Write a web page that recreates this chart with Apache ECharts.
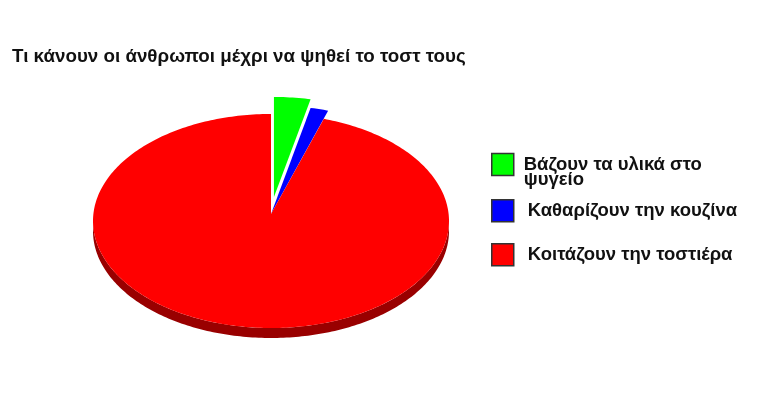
<!DOCTYPE html>
<html>
<head>
<meta charset="utf-8">
<script src="https://cdn.jsdelivr.net/npm/echarts@6/dist/echarts.min.js"></script>
<style>
  html, body { margin: 0; padding: 0; background: #fff; }
  #PieChart { width: 768px; height: 403px; }
</style>
</head>
<body>
<div id="PieChart"></div>
<script>
const chartTitle = "Τι κάνουν οι άνθρωποι μέχρι να ψηθεί το τοστ τους";
const sliceNames = [
  "Βάζουν τα υλικά στο\nψυγείο",
  "Καθαρίζουν την κουζίνα",
  "Κοιτάζουν την τοστιέρα",
];
const sliceValues = [3.3, 1.5, 95.2];
const sliceColors = ["#00ff00", "#0000ff", "#ff0000"];
const sideColors = ["#009900", "#000099", "#990000"];

// pie layout (tilted, so the top face is an ellipse)
const CX = 271;
const CY = 221;
const RX = 178;
const RY = 107;
const DEPTH = 10;
const APEX_DY = -7;
const explode = [0.16, 0, 0];
const reach = [1, 1.08, 1];
const FONT = "'Liberation Sans', Arial, sans-serif";

let chart;

function ellipsePoint(deg, k, ox, oy) {
  const r = (deg * Math.PI) / 180;
  return [CX + ox + RX * k * Math.sin(r), CY + oy - RY * k * Math.cos(r)];
}

function renderSlice(params, api) {
  const i = params.seriesIndex;
  const total = sliceValues.reduce((a, b) => a + b, 0);
  let start = 0;
  for (let j = 0; j < i; j++) start += (sliceValues[j] / total) * 360;
  const end = start + (api.value(0) / total) * 360;
  const mid = (((start + end) / 2) * Math.PI) / 180;
  const ox = Math.sin(mid) * explode[i] * RX;
  const oy = -Math.cos(mid) * explode[i] * RY;
  const children = [];

  // front wall (only the part facing us)
  const s0 = Math.max(start, 90);
  const s1 = Math.min(end, 270);
  if (s1 > s0) {
    const top = [];
    for (let a = s0; a < s1; a += 1) top.push(ellipsePoint(a, reach[i], ox, oy));
    top.push(ellipsePoint(s1, reach[i], ox, oy));
    const bottom = top.map((p) => [p[0], p[1] + DEPTH]).reverse();
    children.push({
      type: "polygon",
      shape: { points: top.concat(bottom) },
      style: { fill: sideColors[i] },
    });
  }

  // top face
  const pts = [[CX + ox, CY + APEX_DY + oy]];
  for (let a = start; a < end; a += 1) pts.push(ellipsePoint(a, reach[i], ox, oy));
  pts.push(ellipsePoint(end, reach[i], ox, oy));
  children.push({
    type: "polygon",
    shape: { points: pts },
    style: { fill: sliceColors[i] },
  });

  return { type: "group", children: children };
}

function renderPieChart() {
  chart = echarts.init(document.querySelector("#PieChart"));
  const legendTops = [140, 199, 243];
  chart.setOption({
    animation: false,
    backgroundColor: "#ffffff",
    title: {
      text: chartTitle,
      left: 12,
      top: 47,
      padding: 0,
      textStyle: {
        fontSize: 18.8,
        fontWeight: "bold",
        color: "#111",
        fontFamily: FONT,
      },
    },
    legend: sliceNames.map((name, i) => ({
      data: [name],
      orient: "vertical",
      left: 491,
      top: legendTops[i],
      padding: 0,
      icon: "rect",
      itemWidth: 22,
      itemHeight: 22,
      selectedMode: false,
      // the two-line label starts level with its box
      formatter: i === 0 ? (n) => "\n" + n : "{name}",
      itemStyle: { borderColor: "#333", borderWidth: 1.5 },
      textStyle: {
        fontSize: 18.5,
        fontWeight: "bold",
        color: "#111",
        fontFamily: FONT,
        lineHeight: 15,
        padding: i === 0 ? [0, 0, 0, 5] : [0, 0, 0, 9],
      },
    })),
    series: sliceNames.map((name, i) => ({
      name: name,
      type: "custom",
      coordinateSystem: "none",
      itemStyle: { color: sliceColors[i] },
      renderItem: renderSlice,
      data: [[sliceValues[i]]],
    })),
  });
}

document.addEventListener("DOMContentLoaded", () => {
  renderPieChart();
});
</script>
</body>
</html>
